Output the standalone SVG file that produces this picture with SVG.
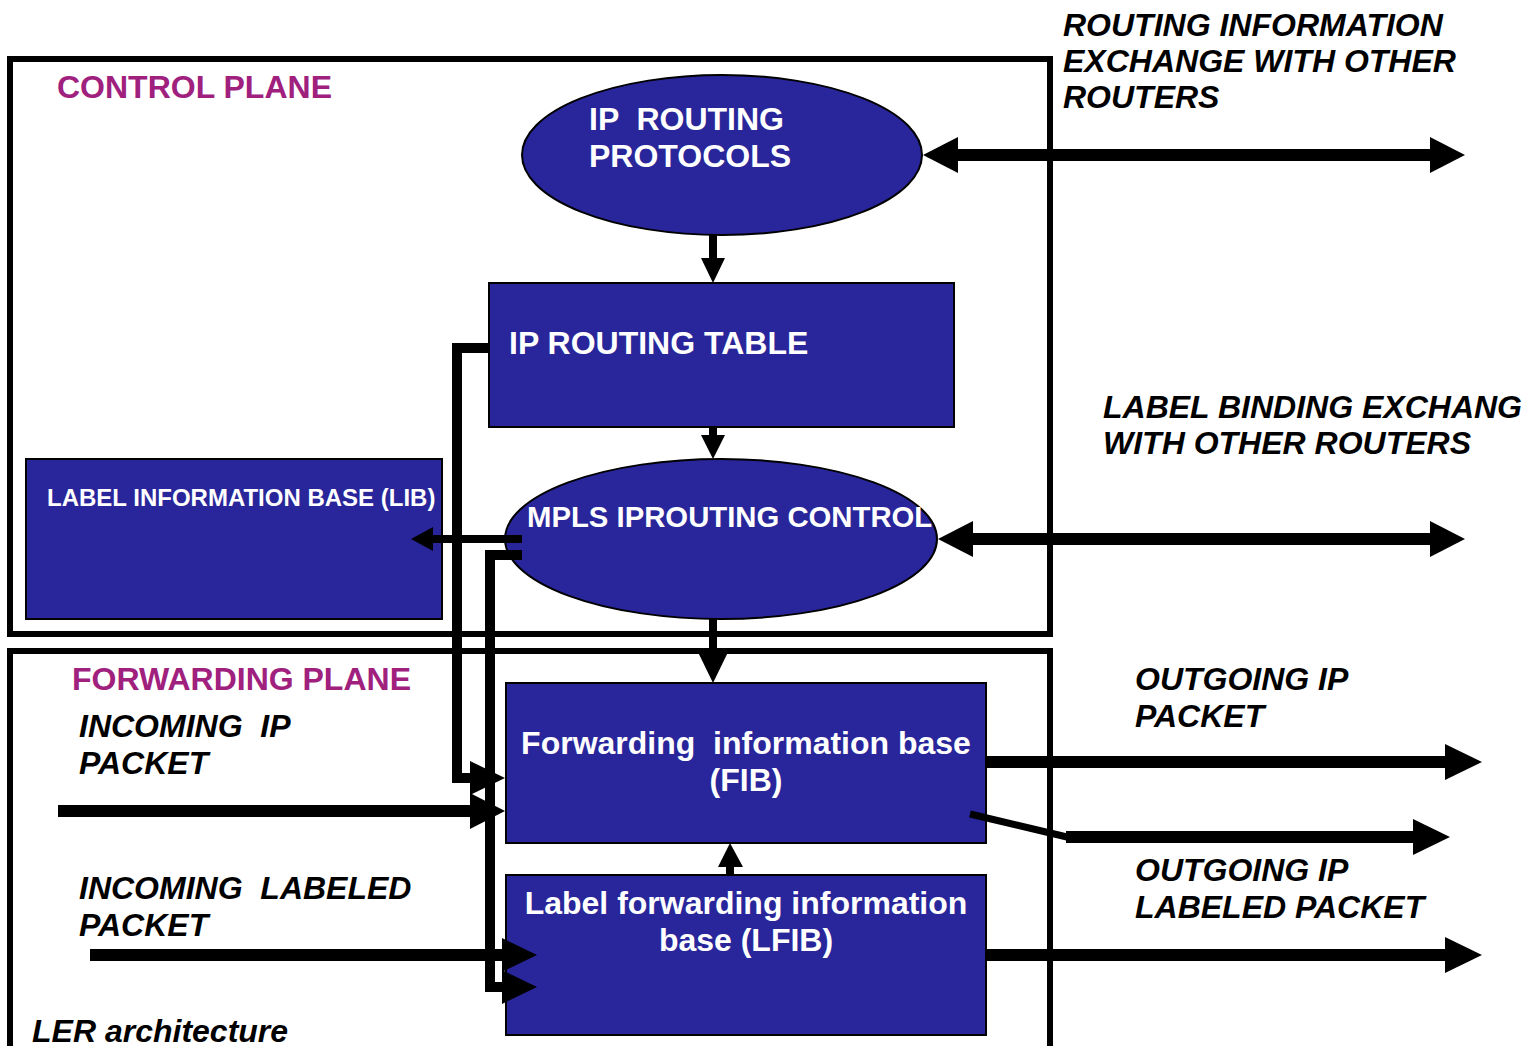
<svg xmlns="http://www.w3.org/2000/svg" width="1522" height="1046" viewBox="0 0 1522 1046">
  <style>
    text { font-family: "Liberation Sans", Arial, sans-serif; font-weight: bold; white-space: pre; }
    .w { fill: #ffffff; font-size: 32px; }
    .wc { fill: #ffffff; font-size: 32px; text-anchor: middle; }
    .lib { fill: #ffffff; font-size: 24px; }
    .plane { fill: #A0207E; font-size: 32px; }
    .ital { fill: #000000; font-size: 32px; font-style: italic; }
    .blk { fill: #28269A; stroke: #000000; stroke-width: 2; }
    .frame { fill: none; stroke: #000000; stroke-width: 6; }
    .thick { stroke: #000000; stroke-width: 12; fill: none; }
    .mid { stroke: #000000; stroke-width: 10; fill: none; stroke-linejoin: miter; }
    .thin { stroke: #000000; stroke-width: 8; fill: none; }
    .head { fill: #000000; }
  </style>

  <rect width="1522" height="1046" fill="#ffffff"/>

  <!-- plane frames -->
  <g id="control-plane">
    <rect class="frame" x="10" y="59" width="1040" height="575"/>
    <text class="plane" x="57" y="98">CONTROL PLANE</text>
  </g>
  <g id="forwarding-plane">
    <rect class="frame" x="10" y="651" width="1040" height="420"/>
    <text class="plane" x="72" y="690">FORWARDING PLANE</text>
  </g>

  <!-- nodes -->
  <g id="ip-routing-protocols">
    <ellipse class="blk" cx="722" cy="155" rx="200" ry="80"/>
    <text class="w" x="589" y="130">IP  ROUTING</text>
    <text class="w" x="589" y="167">PROTOCOLS</text>
  </g>
  <g id="ip-routing-table">
    <rect class="blk" x="489" y="283" width="465" height="144"/>
    <text class="w" x="509" y="354">IP ROUTING TABLE</text>
  </g>
  <g id="lib">
    <rect class="blk" x="26" y="459" width="416" height="160"/>
    <text class="lib" x="47" y="506">LABEL INFORMATION BASE (LIB)</text>
  </g>
  <g id="mpls-control">
    <ellipse class="blk" cx="721" cy="539" rx="216" ry="80"/>
    <text class="w" x="527" y="527" style="font-size:29.3px">MPLS IPROUTING CONTROL</text>
  </g>
  <g id="fib">
    <rect class="blk" x="506" y="683" width="480" height="160"/>
    <text class="wc" x="746" y="754">Forwarding  information base</text>
    <text class="wc" x="746" y="791">(FIB)</text>
  </g>
  <g id="lfib">
    <rect class="blk" x="506" y="875" width="480" height="160"/>
    <text class="wc" x="746" y="914">Label forwarding information</text>
    <text class="wc" x="746" y="951">base (LFIB)</text>
  </g>

  <!-- connectors -->
  <g id="connectors">
    <!-- protocols -> routing table -->
    <line class="thin" x1="713" y1="235" x2="713" y2="260"/>
    <polygon class="head" points="701,258 725,258 713,283"/>
    <!-- routing table -> MPLS control -->
    <line class="thin" x1="713" y1="427" x2="713" y2="437"/>
    <polygon class="head" points="701,435 725,435 713,459"/>
    <!-- MPLS control -> FIB -->
    <line class="thin" x1="713" y1="619" x2="713" y2="652"/>
    <polygon class="head" points="696,648 730,648 713,683"/>
    <!-- LFIB -> FIB -->
    <line class="thin" x1="730" y1="875" x2="730" y2="865"/>
    <polygon class="head" points="718,867 743,867 730,843"/>
    <!-- MPLS control -> LIB -->
    <line class="thin" x1="522" y1="539" x2="431" y2="539"/>
    <polygon class="head" points="433,527 433,551 411,539"/>

    <!-- routing table -> FIB -->
    <path class="mid" d="M489,348 H457 V778 H472"/>
    <polygon class="head" points="470,761 505,778 470,795"/>
    <!-- MPLS control -> LFIB -->
    <path class="mid" d="M522,555 H490 V987 H504"/>
    <polygon class="head" points="502,970 537,987 502,1004"/>

    <!-- incoming IP packet -->
    <line class="thick" x1="58" y1="811" x2="472" y2="811"/>
    <polygon class="head" points="470,793 505,811 470,829"/>
    <!-- incoming labeled packet -->
    <line class="thick" x1="90" y1="955" x2="504" y2="955"/>
    <polygon class="head" points="502,938 537,955 502,972"/>

    <!-- routing information exchange -->
    <line class="thick" x1="956" y1="155" x2="1432" y2="155"/>
    <polygon class="head" points="958,137 923,155 958,173"/>
    <polygon class="head" points="1430,137 1465,155 1430,173"/>
    <!-- label binding exchange -->
    <line class="thick" x1="971" y1="539" x2="1432" y2="539"/>
    <polygon class="head" points="973,521 938,539 973,557"/>
    <polygon class="head" points="1430,521 1465,539 1430,557"/>

    <!-- outgoing IP packet -->
    <line class="thick" x1="986" y1="762" x2="1447" y2="762"/>
    <polygon class="head" points="1445,744 1482,762 1445,780"/>
    <!-- outgoing labeled packet from FIB -->
    <line stroke="#000000" stroke-width="7" x1="970" y1="814" x2="1067" y2="837"/>
    <line class="thick" x1="1066" y1="837" x2="1415" y2="837"/>
    <polygon class="head" points="1413,819 1450,837 1413,855"/>
    <!-- outgoing labeled packet from LFIB -->
    <line class="thick" x1="986" y1="955" x2="1447" y2="955"/>
    <polygon class="head" points="1445,937 1482,955 1445,973"/>
  </g>

  <!-- free labels -->
  <g id="labels">
    <text class="ital" x="1063" y="36">ROUTING INFORMATION</text>
    <text class="ital" x="1063" y="72">EXCHANGE WITH OTHER</text>
    <text class="ital" x="1063" y="108">ROUTERS</text>
    <text class="ital" x="1103" y="418">LABEL BINDING EXCHANG</text>
    <text class="ital" x="1103" y="454">WITH OTHER ROUTERS</text>
    <text class="ital" x="79" y="737">INCOMING  IP</text>
    <text class="ital" x="79" y="774">PACKET</text>
    <text class="ital" x="79" y="899">INCOMING  LABELED</text>
    <text class="ital" x="79" y="936">PACKET</text>
    <text class="ital" x="1135" y="690">OUTGOING IP</text>
    <text class="ital" x="1135" y="727">PACKET</text>
    <text class="ital" x="1135" y="881">OUTGOING IP</text>
    <text class="ital" x="1135" y="918">LABELED PACKET</text>
    <text class="ital" x="32" y="1042">LER architecture</text>
  </g>
</svg>
